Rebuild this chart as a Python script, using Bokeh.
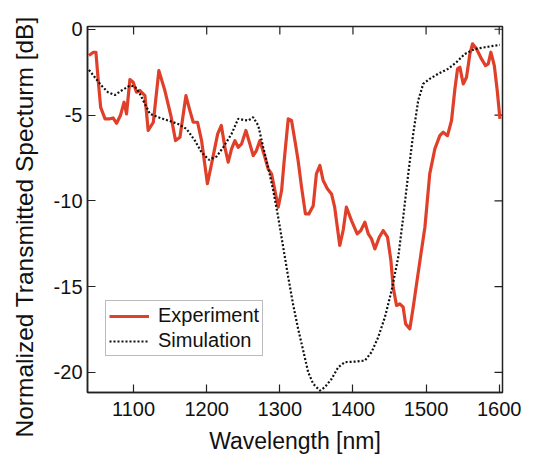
import math
from bokeh.plotting import figure
from bokeh.models import Range1d, Legend, LegendItem, FixedTicker, Title
from bokeh.embed import file_html
from bokeh.resources import INLINE

# Experiment (red)
exp_wl = [1039, 1045, 1048.5, 1051.7, 1055, 1061, 1067.6, 1072, 1076.8, 1082, 1087, 1090.4,
          1095, 1099.5, 1104, 1108.7, 1115.5, 1120, 1127, 1134.6, 1142.8, 1151, 1157.4, 1163.4,
          1171.6, 1177, 1181.6, 1187.5, 1193, 1201, 1207.6, 1215, 1220, 1224.9, 1229.4, 1234,
          1238.6, 1243, 1247.7, 1253.6, 1259, 1263.6, 1268, 1272.7, 1279.6, 1284, 1288.7, 1292.3,
          1297.8, 1302.4, 1306, 1311.5, 1316, 1320.6, 1325, 1329.7, 1335, 1339.7, 1345.7, 1350,
          1354.8, 1359.3, 1365, 1370.7, 1375, 1382, 1386.7, 1391, 1398, 1405.8, 1410.8, 1416.3,
          1421, 1425.4, 1430, 1436, 1441.4, 1447.3, 1451.9, 1455, 1459.6, 1464, 1468.7, 1472,
          1477.8, 1482.4, 1487, 1493, 1498.4, 1505, 1512, 1518.8, 1523.4, 1529.3, 1534.8, 1539.4,
          1543, 1546.2, 1550.8, 1555.3, 1559.9, 1563.5, 1569, 1575.8, 1581.3, 1585, 1588.6, 1593.3,
          1597.3, 1601]
exp_db = [-1.53, -1.34, -1.34, -3.0, -4.55, -5.22, -5.22, -5.17, -5.48, -5.03, -4.25, -4.93,
          -2.93, -3.09, -3.67, -3.57, -3.87, -5.9, -5.42, -2.41, -3.57, -5.03, -6.49, -6.29,
          -3.87, -4.74, -5.42, -5.42, -6.49, -9.0, -7.65, -6.1, -5.61, -6.88, -7.75, -6.97,
          -6.49, -6.88, -6.68, -5.9, -6.68, -7.36, -7.07, -6.49, -7.46, -8.14, -8.43, -9.2,
          -10.37, -9.4, -7.65, -5.22, -5.32, -6.49, -7.65, -9.2, -10.76, -10.76, -10.28, -8.43,
          -7.94, -8.82, -9.3, -9.6, -10.37, -12.6, -11.7, -10.37, -11.15, -11.93, -11.73, -11.25,
          -11.93, -12.22, -12.8, -12.12, -11.73, -12.12, -13.48, -15.04, -16.1, -16.0, -16.2, -17.17,
          -17.46, -16.2, -14.84, -13.09, -11.54, -8.43, -6.97, -6.2, -6.0, -6.2, -5.32, -3.48,
          -2.31, -2.21, -3.19, -2.8, -1.44, -0.85, -1.15, -1.73, -2.12, -2.02, -1.34, -2.12,
          -3.57, -5.22]

# Simulation (black dotted)
sim_wl = [1039, 1047, 1056, 1065, 1074.5, 1083.6, 1095, 1101.8, 1108.7, 1115.5, 1122.3, 1133.7,
          1147.4, 1161, 1172.5, 1183.9, 1193, 1203, 1213.5, 1222.6, 1234, 1243, 1250, 1257,
          1263.6, 1270.5, 1277.3, 1284, 1291, 1297.8, 1304.6, 1311.5, 1318, 1325, 1332, 1338.8,
          1345.7, 1354.8, 1361.6, 1370.7, 1379.8, 1389, 1402.6, 1416.3, 1425.4, 1434.5, 1443.7,
          1452.8, 1461.9, 1468.7, 1475.6, 1482.4, 1489.2, 1496, 1505, 1516.4, 1530, 1541.5,
          1552.9, 1566.6, 1580.3, 1600.9]
sim_db = [-2.37, -2.8, -3.28, -3.67, -3.83, -3.57, -3.28, -3.34, -3.77, -4.35, -4.93, -5.13,
          -5.32, -5.52, -5.81, -6.49, -7.17, -7.61, -7.42, -6.88, -6.1, -5.22, -5.28, -5.32,
          -5.13, -5.61, -6.88, -8.04, -9.4, -10.96, -12.7, -14.45, -16.0, -17.46, -18.73, -19.99,
          -20.67, -21.06, -20.86, -20.38, -19.7, -19.4, -19.37, -19.31, -18.82, -17.95, -16.78,
          -15.23, -13.29, -10.96, -8.43, -6.1, -4.16, -3.19, -2.89, -2.6, -2.31, -1.92,
          -1.44, -1.15, -1.05, -0.91]

x_ticks = [1100, 1200, 1300, 1400, 1500, 1600]
x_tick_labels = ["1100", "1200", "1300", "1400", "1500", "1600"]
y_ticks = [0, -5, -10, -15, -20]
y_tick_labels = ["0", "-5", "-10", "-15", "-20"]
x_title = "Wavelength [nm]"
y_title = "Normalized Transmitted Specturm [dB]"

x_start, x_end = 1037, 1604.5
y_start, y_end = -21.17, 0.16

FONT = "Liberation Sans"
INK = "#222222"

p = figure(frame_width=415, frame_height=366, output_backend="svg", toolbar_location=None,
           x_range=Range1d(x_start, x_end), y_range=Range1d(y_start, y_end),
           min_border_left=86, min_border_right=45, min_border_top=26, min_border_bottom=66)
p.grid.visible = False
p.background_fill_color = "white"
p.border_fill_color = "white"
p.outline_line_color = INK
p.outline_line_width = 1.5

xa = p.xaxis[0]
ya = p.yaxis[0]
for ax in (xa, ya):
    ax.major_tick_in = 8
    ax.major_tick_out = 0
    ax.minor_tick_in = 0
    ax.minor_tick_out = 0
    ax.axis_line_color = INK
    ax.axis_line_width = 1.5
    ax.major_tick_line_color = INK
    ax.major_tick_line_width = 1.2
    ax.major_label_text_font = FONT
    ax.major_label_text_font_size = "20px"
    ax.major_label_text_color = "#111111"
    ax.axis_label_text_font = FONT
    ax.axis_label_text_font_style = "normal"
    ax.axis_label_text_color = "#111111"
xa.axis_label_text_font_size = "23px"
xa.ticker = FixedTicker(ticks=x_ticks)
ya.ticker = FixedTicker(ticks=y_ticks)
xa.major_label_overrides = dict(zip(x_ticks, x_tick_labels))
ya.major_label_overrides = dict(zip(y_ticks, y_tick_labels))
xa.axis_label = x_title
xa.major_label_standoff = 9
xa.axis_label_standoff = 9
ya.major_label_standoff = 5

# y-axis title: a side title so it can sit lower than the frame centre, like the original
p.add_layout(Title(text=y_title, align="left", vertical_align="top", offset=-45, standoff=21,
                   text_font=FONT, text_font_size="24.5px", text_font_style="normal",
                   text_color="#111111"), "left")

# mirrored inward ticks on top and right edges
p.ray(x=x_ticks, y=[y_end] * len(x_ticks), length=8, length_units="screen",
      angle=-math.pi / 2, line_color=INK, line_width=1.2)
p.ray(x=[x_end] * len(y_ticks), y=y_ticks, length=8, length_units="screen",
      angle=math.pi, line_color=INK, line_width=1.2)

r_exp = p.line(exp_wl, exp_db, line_color="#e0402a", line_width=3.2, line_join="round")
r_sim = p.line(sim_wl, sim_db, line_color="#111111", line_width=2.2, line_dash="2 2")

legend = Legend(items=[LegendItem(label="Experiment", renderers=[r_exp]),
                       LegendItem(label="Simulation", renderers=[r_sim])],
                location=(18, 36), margin=0, padding=3, spacing=2,
                glyph_width=40, glyph_height=20, label_height=20, label_standoff=9,
                label_text_font=FONT, label_text_font_size="20px", label_text_color="#111111",
                border_line_color="#777777", border_line_width=1,
                background_fill_color="white", background_fill_alpha=1.0)
p.add_layout(legend, "center")

open("out.html", "w").write(file_html(p, INLINE))
